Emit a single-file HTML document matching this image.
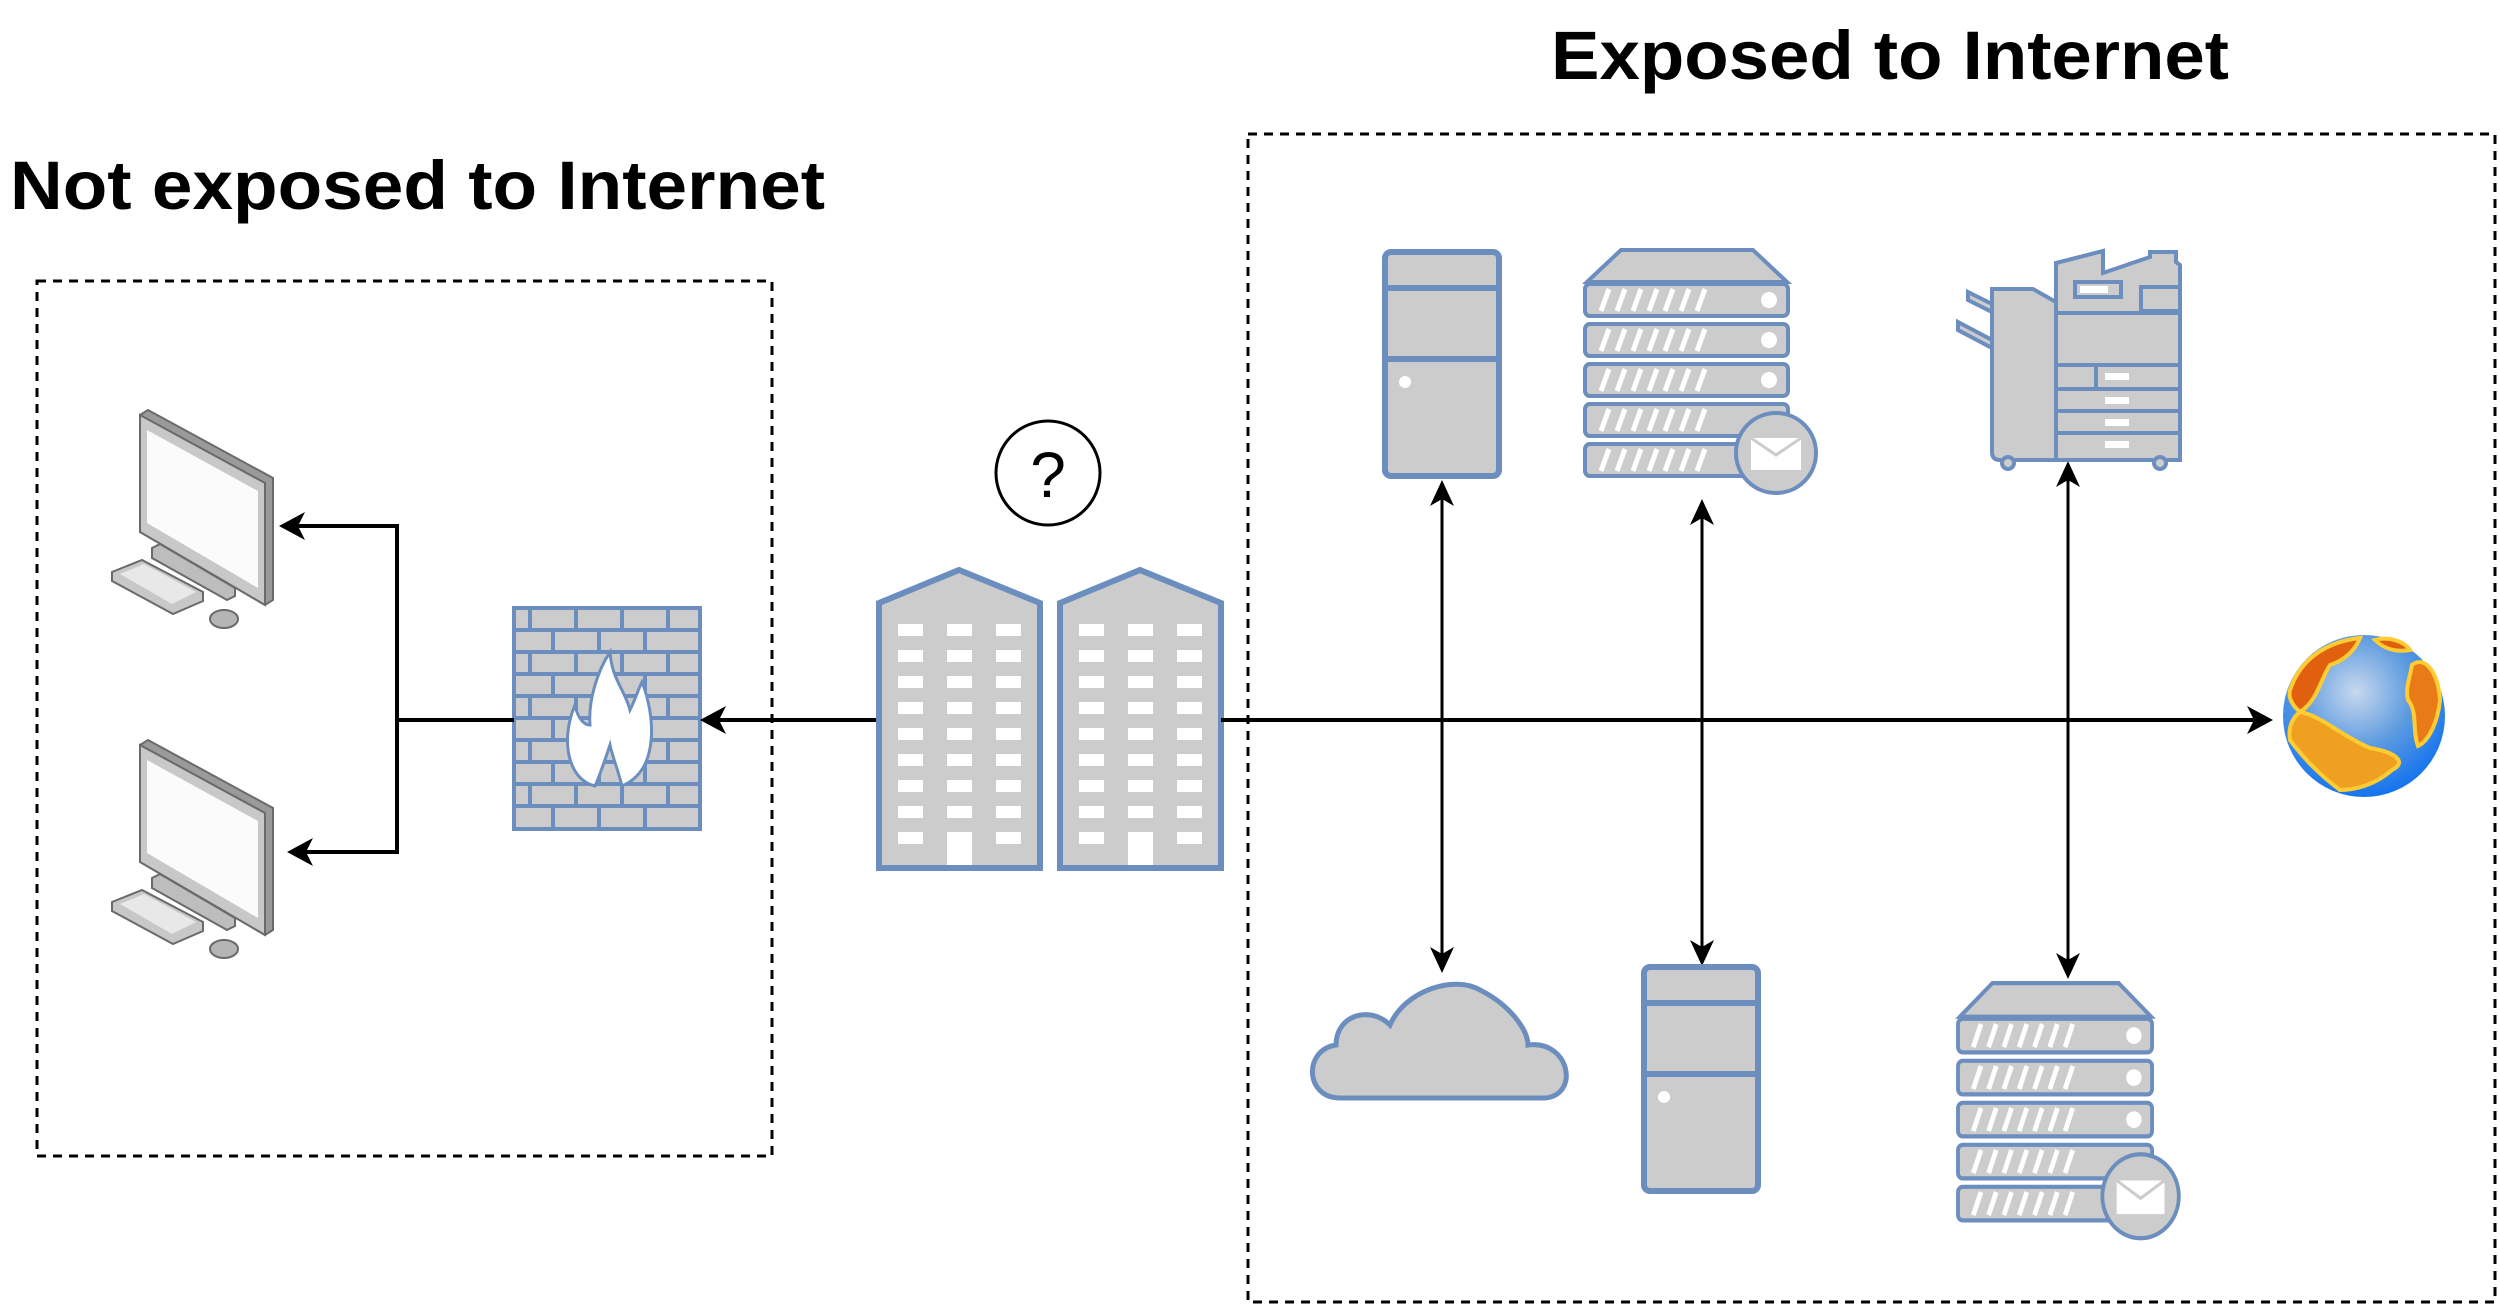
<!DOCTYPE html>
<html><head><meta charset="utf-8"><style>
html,body{margin:0;padding:0;background:#fff;}
svg{display:block;}
</style></head><body>
<svg width="2500" height="1309" viewBox="0 0 2500 1309" xmlns="http://www.w3.org/2000/svg">
<defs>
<marker id="ah" markerWidth="12" markerHeight="12" refX="10" refY="6" orient="auto-start-reverse" markerUnits="userSpaceOnUse" viewBox="0 0 12 12">
</marker>
<radialGradient id="gl" cx="0.45" cy="0.35" r="0.7">
<stop offset="0" stop-color="#c8d8ee"/><stop offset="0.5" stop-color="#5b9ae0"/><stop offset="1" stop-color="#0a6ef0"/>
</radialGradient>
<g id="mon">
<path d="M40,15 L48,10 L173,78 L173,200 L165,205 L40,130 Z" fill="#9a9a9a" stroke="#6a6a6a" stroke-width="2"/>
<path d="M40,15 L165,83 L165,205 L40,132 Z" fill="#c8c8c8" stroke="#6a6a6a" stroke-width="2"/>
<path d="M47,30 L158,91 L158,188 L47,123 Z" fill="#fbfbfb"/>
<path d="M52,148 L60,144 L135,188 L135,196 L127,200 L52,158 Z" fill="#bdbdbd" stroke="#6a6a6a" stroke-width="2"/>
<path d="M12,172 L42,160 L103,192 L103,201 L73,214 L12,181 Z" fill="#c8c8c8" stroke="#6a6a6a" stroke-width="2"/>
<path d="M20,174 L44,164 L96,192 L72,204 Z" fill="#e8e8e8"/>
<ellipse cx="124" cy="219" rx="14" ry="9" fill="#b5b5b5" stroke="#6a6a6a" stroke-width="2"/>
</g>
<g id="tower">
<rect x="0" y="0" width="114" height="224" rx="6" fill="#cccccc" stroke="#6c8ebf" stroke-width="6"/>
<line x1="0" y1="36" x2="114" y2="36" stroke="#6c8ebf" stroke-width="6"/>
<line x1="0" y1="107" x2="114" y2="107" stroke="#6c8ebf" stroke-width="6"/>
<circle cx="20" cy="130" r="6" fill="#fff"/>
</g>
<g id="unit">
<rect x="0" y="0" width="203" height="32" rx="5" fill="#cccccc" stroke="#6c8ebf" stroke-width="4"/>
<path d="M16,27 L24,5 M32,27 L40,5 M48,27 L56,5 M64,27 L72,5 M80,27 L88,5 M96,27 L104,5 M112,27 L120,5" stroke="#fff" stroke-width="5"/>
<circle cx="184" cy="16" r="8" fill="#fff"/>
</g>
<g id="rack">
<path d="M2,34 L36,2 L168,2 L202,34 Z" fill="#cccccc" stroke="#6c8ebf" stroke-width="4"/>
<use href="#unit" y="36"/><use href="#unit" y="76"/><use href="#unit" y="116"/><use href="#unit" y="156"/><use href="#unit" y="196"/>
<circle cx="191" cy="205" r="40" fill="#cccccc" stroke="#6c8ebf" stroke-width="4"/>
<rect x="166" y="190" width="50" height="32" fill="#fff"/>
<path d="M166,190 L191,207 L216,190" fill="none" stroke="#cccccc" stroke-width="3"/>
</g>
<g id="bld">
<path d="M0,33 L80,0 L161,33 L161,298 L0,298 Z" fill="#cccccc" stroke="#6c8ebf" stroke-width="6"/>
<g fill="#fff">
<rect x="19" y="54" width="25" height="12"/><rect x="68" y="54" width="25" height="12"/><rect x="117" y="54" width="25" height="12"/>
<rect x="19" y="80" width="25" height="12"/><rect x="68" y="80" width="25" height="12"/><rect x="117" y="80" width="25" height="12"/>
<rect x="19" y="106" width="25" height="12"/><rect x="68" y="106" width="25" height="12"/><rect x="117" y="106" width="25" height="12"/>
<rect x="19" y="132" width="25" height="12"/><rect x="68" y="132" width="25" height="12"/><rect x="117" y="132" width="25" height="12"/>
<rect x="19" y="158" width="25" height="12"/><rect x="68" y="158" width="25" height="12"/><rect x="117" y="158" width="25" height="12"/>
<rect x="19" y="184" width="25" height="12"/><rect x="68" y="184" width="25" height="12"/><rect x="117" y="184" width="25" height="12"/>
<rect x="19" y="210" width="25" height="12"/><rect x="68" y="210" width="25" height="12"/><rect x="117" y="210" width="25" height="12"/>
<rect x="19" y="236" width="25" height="12"/><rect x="68" y="236" width="25" height="12"/><rect x="117" y="236" width="25" height="12"/>
<rect x="19" y="262" width="25" height="12"/><rect x="117" y="262" width="25" height="12"/>
<rect x="68" y="262" width="25" height="33"/>
</g>
</g>
</defs>

<text x="10" y="209" font-family="Liberation Sans, sans-serif" font-weight="bold" font-size="69" textLength="815" lengthAdjust="spacingAndGlyphs">Not exposed to Internet</text>
<text x="1551" y="79" font-family="Liberation Sans, sans-serif" font-weight="bold" font-size="69" textLength="678" lengthAdjust="spacingAndGlyphs">Exposed to Internet</text>

<rect x="37" y="281" width="735" height="875" fill="none" stroke="#000" stroke-width="3" stroke-dasharray="9,7"/>
<rect x="1248" y="134" width="1247" height="1168" fill="none" stroke="#000" stroke-width="3" stroke-dasharray="9,7"/>

<use href="#mon" x="100" y="400"/>
<use href="#mon" x="100" y="730"/>

<!-- firewall -->
<g>
<rect x="514" y="608" width="186" height="221" fill="#cccccc" stroke="#6c8ebf" stroke-width="4"/>
<g stroke="#6c8ebf" stroke-width="4" fill="none">
<path d="M514,630 H700 M514,652 H700 M514,674 H700 M514,696 H700 M514,718 H700 M514,740 H700 M514,762 H700 M514,784 H700 M514,806 H700"/>
<path d="M530,608 V630 M576,608 V630 M622,608 V630 M668,608 V630
M553,630 V652 M599,630 V652 M645,630 V652
M530,652 V674 M576,652 V674 M622,652 V674 M668,652 V674
M553,674 V696 M599,674 V696 M645,674 V696
M530,696 V718 M576,696 V718 M622,696 V718 M668,696 V718
M553,718 V740 M599,718 V740 M645,718 V740
M530,740 V762 M576,740 V762 M622,740 V762 M668,740 V762
M553,762 V784 M599,762 V784 M645,762 V784
M530,784 V806 M576,784 V806 M622,784 V806 M668,784 V806
M553,806 V829 M599,806 V829 M645,806 V829"/>
</g>
<path d="M595,786 C568,780 560,740 575,705 C578,720 585,725 590,725 C588,700 598,670 610,652 C612,680 625,690 630,710 C635,700 638,690 642,682 C655,715 660,770 622,786 C618,770 612,755 610,745 C605,760 600,775 595,786 Z" fill="#fff" stroke="#6c8ebf" stroke-width="3"/>
</g>

<!-- left connectors -->
<g stroke="#000" stroke-width="4" fill="none">
<path d="M514,720 H397 V526 H292"/>
<path d="M397,720 V852 H300"/>
<path d="M879,720 H712"/>
</g>
<g fill="#000">
<path d="M279,526 L305,512 L298,526 L305,540 Z"/>
<path d="M287,852 L313,838 L306,852 L313,866 Z"/>
<path d="M700,720 L726,706 L719,720 L726,734 Z"/>
</g>

<circle cx="1048" cy="473" r="52" fill="#fff" stroke="#000" stroke-width="3"/>
<text x="1048" y="497" text-anchor="middle" font-family="Liberation Sans, sans-serif" font-size="64">?</text>

<use href="#bld" x="879" y="570"/>
<use href="#bld" x="1060" y="570"/>

<!-- main line -->
<line x1="1221" y1="720" x2="2262" y2="720" stroke="#000" stroke-width="4"/>
<path d="M2273,720 L2247,706 L2254,720 L2247,734 Z" fill="#000"/>

<!-- verticals -->
<g stroke="#000" stroke-width="3">
<line x1="1442" y1="490" x2="1442" y2="963"/>
<line x1="1702" y1="509" x2="1702" y2="956"/>
<line x1="2068" y1="471" x2="2068" y2="969"/>
</g>
<g fill="#000">
<path d="M1442,480 L1430,506 L1442,499 L1454,506 Z"/>
<path d="M1442,973 L1430,947 L1442,954 L1454,947 Z"/>
<path d="M1702,499 L1690,525 L1702,518 L1714,525 Z"/>
<path d="M1702,966 L1690,940 L1702,947 L1714,940 Z"/>
<path d="M2068,461 L2056,487 L2068,480 L2080,487 Z"/>
<path d="M2068,979 L2056,953 L2068,960 L2080,953 Z"/>
</g>

<use href="#tower" x="1385" y="252"/>
<use href="#tower" x="1644" y="967"/>
<use href="#rack" x="1585" y="248"/>
<use href="#rack" transform="translate(1958,981) scale(0.956,1.05)"/>

<!-- cloud -->
<path d="M1340,1098 C1305,1098 1303,1050 1336,1045 C1336,1015 1370,1005 1390,1025 C1405,990 1455,975 1480,990 C1510,1005 1528,1030 1528,1045 C1570,1040 1580,1095 1545,1098 Z" fill="#cccccc" stroke="#6c8ebf" stroke-width="5"/>

<!-- printer -->
<g fill="#cccccc" stroke="#6c8ebf" stroke-width="4">
<path d="M1968,292 L1992,304 L1992,312 L1968,300 Z"/>
<path d="M1958,322 L1992,340 L1992,348 L1958,330 Z"/>
<path d="M2056,263 L2103,251 L2103,273 L2150,257 L2150,252 L2176,252 L2176,262 L2180,265 L2180,460 L2056,460 Z"/>
<path d="M1992,289 L2033,289 L2056,302 L2056,460 L2000,460 Q1992,460 1992,452 Z"/>
<rect x="2075" y="282" width="46" height="15"/>
<rect x="2141" y="287" width="39" height="24"/>
<line x1="2056" y1="313" x2="2180" y2="313"/>
<line x1="2056" y1="365" x2="2180" y2="365"/>
<line x1="2056" y1="389" x2="2180" y2="389"/>
<line x1="2056" y1="411" x2="2180" y2="411"/>
<line x1="2056" y1="433" x2="2180" y2="433"/>
<line x1="2096" y1="365" x2="2096" y2="389"/>
<circle cx="2008" cy="463" r="6"/><circle cx="2160" cy="463" r="6"/>
</g>
<g fill="#fff"><rect x="2080" y="286" width="28" height="7"/><rect x="2105" y="373" width="24" height="7"/><rect x="2105" y="397" width="24" height="7"/><rect x="2105" y="419" width="24" height="7"/><rect x="2105" y="441" width="24" height="7"/></g>

<!-- globe -->
<circle cx="2364" cy="716" r="81" fill="url(#gl)"/>
<g fill="#f0a020" stroke="#ffcc33" stroke-width="4">
<path d="M2290,690 C2300,660 2325,642 2360,638 C2355,650 2345,660 2330,665 C2320,680 2318,700 2300,712 C2292,705 2288,698 2290,690 Z" fill="#e06010"/>
<path d="M2300,712 C2320,715 2340,735 2370,748 C2395,752 2408,762 2392,770 C2375,785 2355,790 2340,790 C2320,775 2305,760 2290,740 C2288,728 2292,718 2300,712 Z"/>
<path d="M2412,665 C2425,655 2438,672 2440,700 C2438,720 2430,740 2418,746 C2412,730 2418,712 2408,700 C2405,688 2410,678 2412,665 Z" fill="#e87a18"/>
<path d="M2375,640 C2390,636 2405,642 2410,650 C2398,652 2385,650 2375,640 Z" fill="#e06010"/>
</g>
</svg>
</body></html>
